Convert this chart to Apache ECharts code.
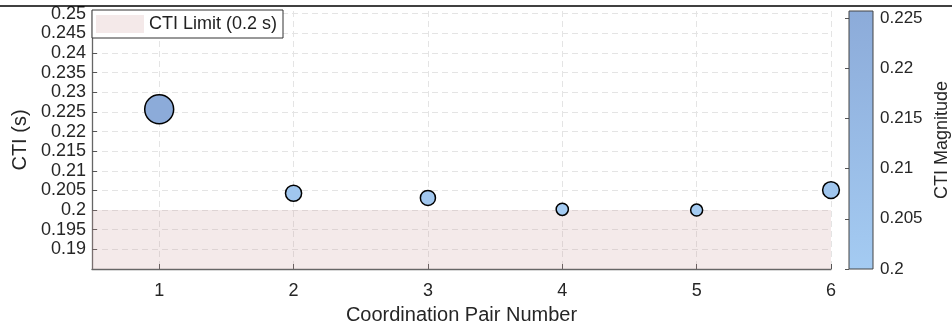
<!DOCTYPE html>
<html>
<head>
<meta charset="utf-8">
<script src="https://cdn.jsdelivr.net/npm/echarts@6/dist/echarts.min.js"></script>
<style>html,body{margin:0;padding:0;background:#fff}#c{width:952px;height:329px}</style>
</head>
<body>
<div id="c"></div>
<script>
// ---- data ----
var pairs = [1, 2, 3, 4, 5, 6];
var cti = [0.2257, 0.2043, 0.2031, 0.2002, 0.2000, 0.2051];
var ctiLimit = 0.2;
var xTicks = [1, 2, 3, 4, 5, 6];
var yTicks = [0.19, 0.195, 0.2, 0.205, 0.21, 0.215, 0.22, 0.225, 0.23, 0.235, 0.24, 0.245, 0.25];
var cbTicks = [0.2, 0.205, 0.21, 0.215, 0.22, 0.225];
var yMin = 0.185, yMax = 0.2507;
var cMin = 0.2, cMax = 0.2257;

var FONT = '"Liberation Sans", Arial, Helvetica, sans-serif';
var fmt = function (v) { return String(+(+v).toFixed(3)); };
var pts = pairs.map(function (p, i) { return [p, cti[i]]; });

var chart = echarts.init(document.getElementById('c'));
chart.setOption({
  animation: false,
  backgroundColor: '#ffffff',
  textStyle: { fontFamily: FONT },
  graphic: [{
    type: 'line', shape: { x1: 0, y1: 6, x2: 952, y2: 6 },
    style: { stroke: '#000', lineWidth: 1.5 }, z: 100
  }],
  legend: {
    left: 92, top: 10,
    orient: 'vertical',
    itemWidth: 48, itemHeight: 18, itemGap: 4,
    padding: [5, 6, 5, 4],
    backgroundColor: '#ffffff',
    borderColor: '#333', borderWidth: 1, borderRadius: 0,
    textStyle: { fontSize: 18, color: '#222', fontFamily: FONT },
    data: [{ name: 'CTI Limit (0.2 s)', icon: 'rect', itemStyle: { color: '#f4e9e9' } }],
    selectedMode: false
  },
  visualMap: {
    show: false, type: 'continuous', seriesIndex: 0, dimension: 1,
    min: cMin, max: cMax,
    inRange: { color: ['#a4cbf2', '#8cabd9'] }
  },
  grid: [
    { left: 92, right: 121, top: 11, bottom: 60, containLabel: false, outerBoundsMode: 'none' },
    { left: 849, width: 24, top: 11, bottom: 60, containLabel: false, outerBoundsMode: 'none' }
  ],
  xAxis: [{
    type: 'value', gridIndex: 0, min: 0.5, max: 6,
    name: 'Coordination Pair Number', nameLocation: 'middle', nameGap: 36,
    nameTextStyle: { fontSize: 20, color: '#262626', fontFamily: FONT },
    axisLine: { show: true, onZero: false, lineStyle: { color: '#666', width: 1.3 } },
    axisTick: { show: true, inside: true, length: 5, customValues: xTicks, lineStyle: { color: '#555' } },
    axisLabel: { customValues: xTicks, fontSize: 18, color: '#262626', margin: 13, fontFamily: FONT },
    splitLine: { show: true, lineStyle: { color: '#e4e4e4', type: [6, 4], width: 1 } }
  }, {
    type: 'value', gridIndex: 1, min: 0, max: 1, show: false
  }],
  yAxis: [{
    type: 'value', gridIndex: 0, min: yMin, max: yMax,
    name: 'CTI (s)', nameLocation: 'middle', nameGap: 62, nameRotate: 90,
    nameTextStyle: { fontSize: 20, color: '#262626', fontFamily: FONT },
    axisLine: { show: true, onZero: false, lineStyle: { color: '#666', width: 1.3 } },
    axisTick: { show: true, inside: true, length: 5, customValues: yTicks, lineStyle: { color: '#555' } },
    axisLabel: { customValues: yTicks, formatter: fmt, fontSize: 18, color: '#262626', margin: 6, fontFamily: FONT },
    splitLine: { show: true, lineStyle: { color: '#e4e4e4', type: [6, 4], width: 1 } }
  }, {
    type: 'value', gridIndex: 1, position: 'right', min: cMin, max: cMax,
    name: 'CTI Magnitude', nameLocation: 'middle', nameGap: 60, nameRotate: 90,
    nameTextStyle: { fontSize: 18, color: '#262626', fontFamily: FONT },
    axisLine: { show: false },
    axisTick: { show: true, inside: true, length: 4, customValues: cbTicks, lineStyle: { color: '#555' } },
    axisLabel: { customValues: cbTicks, formatter: fmt, fontSize: 17, color: '#262626', margin: 7, fontFamily: FONT },
    splitLine: { show: false }
  }],
  series: [{
    type: 'scatter', xAxisIndex: 0, yAxisIndex: 0, clip: false, z: 5,
    data: pts,
    symbol: 'circle',
    symbolSize: function (v) { return Math.sqrt(144 + (v[1] - 0.2) * 27000); },
    itemStyle: { borderColor: '#000', borderWidth: 1.5, opacity: 1 }
  }, {
    name: 'CTI Limit (0.2 s)', type: 'line', xAxisIndex: 0, yAxisIndex: 0,
    data: [], color: '#f4e9e9',
    markArea: {
      silent: true,
      itemStyle: { color: 'rgba(200,150,150,0.2)' },
      data: [[{ yAxis: yMin }, { yAxis: ctiLimit }]]
    }
  }, {
    type: 'line', xAxisIndex: 1, yAxisIndex: 1, data: [],
    markArea: {
      silent: true,
      itemStyle: {
        borderColor: '#444', borderWidth: 1,
        color: new echarts.graphic.LinearGradient(0, 1, 0, 0, [
          { offset: 0, color: '#a4cbf2' }, { offset: 1, color: '#8cabd9' }
        ])
      },
      data: [[{ coord: [0, cMin] }, { coord: [1, cMax] }]]
    }
  }]
});
</script>
</body>
</html>
